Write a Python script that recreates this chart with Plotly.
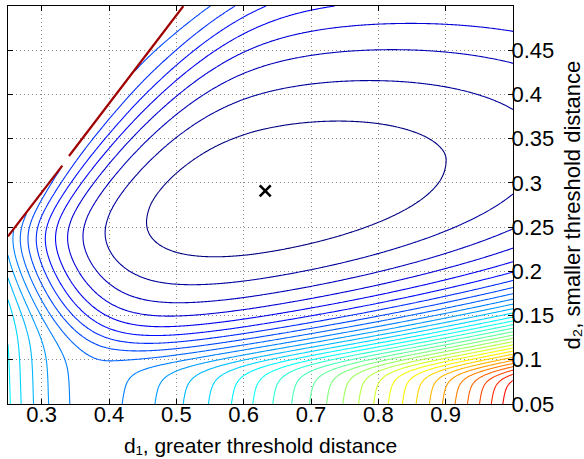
import numpy as np
import plotly.graph_objects as go

# ---------------- axes / labels ----------------
x_range = [0.25, 1.0]
y_range = [0.05, 0.5]
x_ticks = [0.3, 0.4, 0.5, 0.6, 0.7, 0.8, 0.9]
x_ticktext = ["0.3", "0.4", "0.5", "0.6", "0.7", "0.8", "0.9"]
y_ticks = [0.05, 0.1, 0.15, 0.2, 0.25, 0.3, 0.35, 0.4, 0.45]
y_ticktext = ["0.05", "0.1", "0.15", "0.2", "0.25", "0.3", "0.35", "0.4", "0.45"]
x_title = "d\u2081, greater threshold distance"
y_title = "d\u2082, smaller threshold distance"

# ---------------- contour levels ----------------
levels = list(range(1, 38))
color_limits = [0.3, 38.0]

# ---------------- contour crossings (d1, d2, level) -------
right_y = [0.473, 0.433, 0.38, 0.2815, 0.2467, 0.226, 0.21, 0.1985, 0.189, 0.1813,
           0.1757, 0.169, 0.164, 0.158, 0.154, 0.148, 0.1434, 0.1392, 0.135, 0.1314,
           0.1276, 0.1242, 0.1204, 0.1167, 0.1133, 0.1098, 0.1065, 0.103, 0.0996, 0.096]
right_lv = [4, 3, 2, 2, 3, 4, 5, 6, 7, 8,
            9, 10, 11, 12, 13, 14, 15, 16, 17, 18,
            19, 20, 21, 22, 23, 24, 25, 26, 27, 28]
top_x = [0.513, 0.545, 0.582, 0.637, 0.733]
top_lv = [9, 8, 7, 6, 5]
inner_x = [0.453, 0.9, 0.733, 0.535, 0.5995, 0.832, 0.783, 0.535, 0.471,
           0.773, 0.535, 0.7926, 0.7926, 0.832,
           0.399, 0.369, 0.34, 0.317, 0.30, 0.288, 0.278, 0.268, 0.258,
           0.4015, 0.436, 0.535, 0.40]
inner_y = [0.245, 0.32, 0.374, 0.333, 0.354, 0.273, 0.2505, 0.213, 0.2265,
           0.416, 0.367, 0.224, 0.45, 0.48,
           0.243, 0.243, 0.243, 0.243, 0.243, 0.243, 0.243, 0.243, 0.243,
           0.232, 0.194, 0.1676, 0.098]
inner_lv = [1, 1, 1, 1, 1, 1, 1, 1, 1,
            2, 2, 2, 3, 4,
            2, 3, 4, 5, 6, 7, 8, 9, 10,
            2, 2, 3, 9]
left_y = [0.236, 0.222, 0.200, 0.150]
left_lv = [11, 12, 13, 14]
low_left_x = [0.253, 0.270, 0.286, 0.306, 0.346]
low_left_lv = [14, 13, 12, 11, 10]
low_right_x = [0.414, 0.475, 0.514, 0.551, 0.583, 0.613, 0.642, 0.669, 0.696, 0.721,
               0.746, 0.768, 0.793, 0.815, 0.836, 0.857, 0.877, 0.896, 0.914, 0.931,
               0.951, 0.968, 0.986]
low_right_lv = list(range(10, 33))

# ---------------- boundary line d2 = d1 and the optimum marker ----------------
edge_offset = 0.0105
edge_x = [0.25, 0.3307, None, 0.3406, 0.5105]
edge_y = [0.2395, 0.3195, None, 0.3304, 0.5]
opt_x = [0.632]
opt_y = [0.291]

# ---------------- starting guess of the surface shape ----------------
shape_start = [0.68, 0.29, 0.168, 0.3, 13.6, 14.5, 1.49, 1.75,
               1.244, 2.0, 230.0, 0.0173, 0.18, 0.13,
               90.0, 24.0, 0.3415, 0.889, 0.41, 0.03,
               9.4, 15.8, 35.4, 0.38, 0.25, 5.0, 240.0, 0.45, 1.8]
shape_spread = [0.03, 0.03, 0.06, 0.3, 5.0, 5.0, 0.5, 0.4,
                0.5, 0.5, 80.0, 0.006, 0.04, 0.05,
                30.0, 10.0, 0.05, 0.3, 0.15, 0.01,
                1.0, 6.0, 12.0, 0.04, 0.05, 3.0, 80.0, 0.15, 0.15]


def softplus(t):
    return np.logaddexp(0.0, t)


def model(p, x, y):
    (xc, yc, t, z0, a_ul, a_ur, c_vu, p_up, c_vd, p_dn,
     G, s_b, c_b, k_b, A0, A1, xw0, m_up, m_dn, s_w,
     b0, b1, b2, xb, beta_r, bl1, bl2, beta_l, ksm) = p
    s_b = abs(s_b) + 1e-4
    s_w = abs(s_w) + 1e-4
    ksm = abs(ksm) + 0.05
    u = x - xc
    v = y - yc - t * u
    bowl = (z0 + np.where(u < 0, a_ul, a_ur) * u ** 2
            + np.where(v > 0, c_vu * (np.abs(v) / 0.1) ** p_up,
                       c_vd * (np.abs(v) / 0.1) ** p_dn))
    w = y - k_b * (x - 1.0)
    tb = G * s_b * softplus((c_b - w) / s_b)
    e = 0.03
    dy = y - 0.243
    sp_up = e * softplus(dy / e)
    A = A0 - (A0 - A1) / 0.257 * sp_up
    ma = 0.5 * (m_up - m_dn)
    mb = 0.5 * (m_up + m_dn)
    xw = xw0 - mb * e + ma * dy + mb * np.sqrt(dy ** 2 + e ** 2)
    W = A * s_w * softplus((xw - x) / s_w)
    Q = bowl + tb + W
    d = x - xb - beta_r * (y - 0.05)
    dl = x - xb + beta_l * (y - 0.05)
    rr = 0.01 * softplus(d / 0.01)
    ll = 0.01 * softplus(-dl / 0.01)
    B = b0 + b1 * rr + b2 * rr ** 2 + bl1 * ll + bl2 * ll ** 2
    return -ksm * np.logaddexp(-Q / ksm, -B / ksm)


ox = np.concatenate([np.full(len(right_y), 1.0), top_x, inner_x,
                     np.full(len(left_y), 0.25), low_left_x, low_right_x])
oy = np.concatenate([right_y, np.full(len(top_x), 0.5), inner_y, left_y,
                     np.full(len(low_left_x) + len(low_right_x), 0.05)])
oz = np.concatenate([right_lv, top_lv, inner_lv, left_lv,
                     low_left_lv, low_right_lv]).astype(float)
ow = np.concatenate([np.ones(len(right_y)), np.ones(len(top_x)), np.ones(len(inner_x)),
                     np.full(len(left_y), 0.5), np.ones(len(low_left_x)),
                     np.ones(len(low_right_x))])

p0 = np.array(shape_start, float)
psig = np.array(shape_spread, float)


def residuals(p):
    z = model(p, ox, oy)
    h = 1e-4
    gx = (model(p, ox + h, oy) - model(p, ox - h, oy)) / (2 * h) / 673.3
    gy = (model(p, ox, oy + h) - model(p, ox, oy - h)) / (2 * h) / 884.4
    g = np.sqrt(gx ** 2 + gy ** 2) + 0.02
    r = ow * (z - oz) / g
    r = np.where(np.isfinite(r), r, 1e3)
    return np.concatenate([r, 2.0 * (p - p0) / psig])


def fit(p):
    lam = 1e-2
    r = residuals(p)
    cost = r @ r
    for _ in range(60):
        J = np.empty((r.size, p.size))
        for j in range(p.size):
            dp = 1e-6 * max(1.0, abs(p[j]))
            q = p.copy()
            q[j] += dp
            J[:, j] = (residuals(q) - r) / dp
        H = J.T @ J
        gvec = J.T @ r
        improved = False
        for _ in range(8):
            step = np.linalg.solve(H + lam * np.diag(np.diag(H) + 1e-9), -gvec)
            q = p + step
            rq = residuals(q)
            cq = rq @ rq
            if np.isfinite(cq) and cq < cost:
                p, r, cost = q, rq, cq
                lam = max(lam / 3, 1e-6)
                improved = True
                break
            lam *= 4
        if not improved:
            break
    return p


params = fit(p0.copy())

xs = np.linspace(x_range[0], x_range[1], 376)
ys = np.linspace(y_range[0], y_range[1], 226)
Xg, Yg = np.meshgrid(xs, ys)
Z = model(params, Xg, Yg)
Z = np.where(Xg - Yg - edge_offset < 0, np.nan, Z)

jet = [
    [0.0, "rgb(0,0,128)"],
    [0.125, "rgb(0,0,255)"],
    [0.375, "rgb(0,255,255)"],
    [0.625, "rgb(255,255,0)"],
    [0.875, "rgb(255,0,0)"],
    [1.0, "rgb(128,0,0)"],
]

fig = go.Figure()
fig.add_trace(go.Contour(
    x=xs, y=ys, z=Z,
    zmin=color_limits[0], zmax=color_limits[1], zauto=False,
    colorscale=jet, showscale=False,
    contours=dict(start=levels[0], end=levels[-1], size=levels[1] - levels[0],
                  coloring="lines"),
    line=dict(width=1.1),
    hoverinfo="skip",
))
fig.add_trace(go.Scatter(
    x=edge_x, y=edge_y, mode="lines",
    line=dict(color="#a00000", width=2.2), showlegend=False, hoverinfo="skip",
))
fig.add_trace(go.Scatter(
    x=opt_x, y=opt_y, mode="markers",
    marker=dict(symbol="x-thin", size=11, line=dict(width=2.6, color="black"), color="black"),
    showlegend=False,
))

font_family = "Liberation Sans, Arial, Helvetica, sans-serif"
axis_common = dict(
    showline=True, linecolor="black", linewidth=1, mirror="ticks",
    ticks="inside", ticklen=5, tickcolor="black", tickwidth=1,
    showgrid=True, gridcolor="#8c8c8c", griddash="1px,3px", gridwidth=1,
    zeroline=False, tickfont=dict(family=font_family, size=22, color="black"),
)
fig.update_layout(
    width=584, height=459,
    margin=dict(l=8, r=71, t=6, b=55),
    paper_bgcolor="white", plot_bgcolor="white",
    showlegend=False,
    xaxis=dict(range=x_range, tickvals=x_ticks, ticktext=x_ticktext,
               ticklabelstandoff=-9, **axis_common),
    yaxis=dict(range=y_range, tickvals=y_ticks, ticktext=y_ticktext, side="right",
               ticklabelstandoff=-7, **axis_common),
    annotations=[
        dict(text=x_title, xref="paper", yref="paper", x=0.5, y=-0.1345,
             xanchor="center", yanchor="bottom", showarrow=False, borderpad=0,
             font=dict(family=font_family, size=21, color="black")),
        dict(text=y_title, xref="paper", yref="paper", x=1.089, y=0.5,
             xanchor="left", yanchor="middle", textangle=-90, showarrow=False,
             font=dict(family=font_family, size=22, color="black")),
    ],
)
fig.write_html("out.html")
